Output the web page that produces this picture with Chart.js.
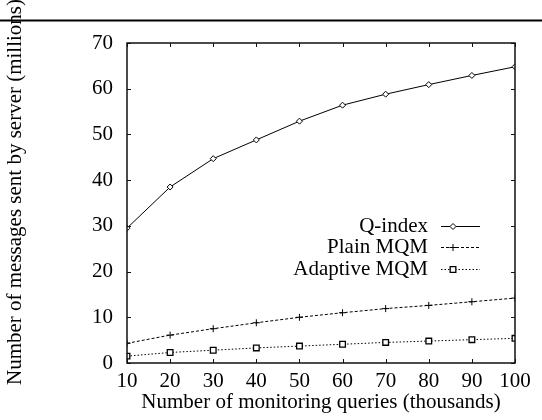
<!DOCTYPE html>
<html>
<head>
<meta charset="utf-8">
<script src="https://cdn.jsdelivr.net/npm/chart.js@4/dist/chart.umd.min.js"></script>
<style>
  html, body { margin: 0; padding: 0; background: #fff; }
  #wrap { width: 542px; height: 420px; position: relative; }
</style>
</head>
<body>
<div id="wrap"><canvas id="chart"></canvas></div>
<script>
// queries (thousands) on x, messages (millions) on y
const queries      = [10, 20, 30, 40, 50, 60, 70, 80, 90, 100];
const qIndex       = [29.5, 38.5, 44.7, 48.8, 52.9, 56.4, 58.8, 60.9, 62.9, 64.8];
const plainMQM     = [4.3, 6.1, 7.5, 8.8, 10.0, 11.0, 11.9, 12.6, 13.4, 14.2];
const adaptiveMQM  = [1.5, 2.3, 2.8, 3.3, 3.7, 4.1, 4.5, 4.8, 5.1, 5.4];
const seriesNames  = ["Q-index", "Plain MQM", "Adaptive MQM"];
const xTicks       = [10, 20, 30, 40, 50, 60, 70, 80, 90, 100];
const yTicks       = [0, 10, 20, 30, 40, 50, 60, 70];

const FONT = "'Liberation Serif', 'DejaVu Serif', serif";
const pts = vals => vals.map((v, i) => ({ x: queries[i], y: v }));

// gnuplot-like frame, inward ticks, rule, y title and key
const framePlugin = {
  id: "frame",
  afterDraw(chart) {
    const { ctx, chartArea: a, scales: { x, y } } = chart;
    const tl = 4;
    ctx.save();

    // rule across the top of the page
    ctx.strokeStyle = "#000";
    ctx.lineWidth = 2;
    ctx.beginPath();
    ctx.moveTo(0, 20.5); ctx.lineTo(542, 20.5);
    ctx.stroke();

    // box
    ctx.lineWidth = 1.5;
    ctx.strokeStyle = "#111";
    ctx.strokeRect(a.left, a.top, a.right - a.left, a.bottom - a.top);

    ctx.lineWidth = 1;
    ctx.beginPath();
    xTicks.forEach(t => {
      const px = Math.round(x.getPixelForValue(t)) + 0.5;
      ctx.moveTo(px, a.bottom); ctx.lineTo(px, a.bottom - tl);
      ctx.moveTo(px, a.top);    ctx.lineTo(px, a.top + tl);
    });
    yTicks.forEach(t => {
      const py = Math.round(y.getPixelForValue(t)) + 0.5;
      ctx.moveTo(a.left, py);  ctx.lineTo(a.left + tl, py);
      ctx.moveTo(a.right, py); ctx.lineTo(a.right - tl, py);
    });
    ctx.stroke();

    // y axis title
    ctx.fillStyle = "#000";
    ctx.font = "21px " + FONT;
    ctx.textAlign = "center";
    ctx.textBaseline = "middle";
    ctx.save();
    ctx.translate(15, 192);
    ctx.rotate(-Math.PI / 2);
    ctx.fillText("Number of messages sent by server (millions)", 0, 0);
    ctx.restore();

    // key
    const rows = [226, 247, 269];
    chart.data.datasets.forEach((ds, i) => {
      const yy = rows[i];
      ctx.fillStyle = "#000";
      ctx.textAlign = "right";
      ctx.fillText(ds.label, 428, yy);
      ctx.strokeStyle = "#000";
      ctx.lineWidth = 1;
      ctx.setLineDash(ds.borderDash || []);
      ctx.beginPath();
      ctx.moveTo(441, yy + 0.5); ctx.lineTo(480, yy + 0.5);
      ctx.stroke();
      ctx.setLineDash([]);
      ctx.fillStyle = "#fff";
      ctx.lineWidth = ds.pointBorderWidth;
      Chart.helpers.drawPoint(ctx, {
        pointStyle: ds.pointStyle, radius: ds.pointRadius, rotation: 0, borderWidth: ds.pointBorderWidth
      }, 453, yy + 0.5);
    });
    ctx.restore();
  }
};

const common = {
  borderColor: "#000",
  backgroundColor: "#fff",
  pointBorderColor: "#000",
  pointBackgroundColor: "#fff",
  borderWidth: 1,
  pointBorderWidth: 1,
  tension: 0,
};

new Chart(document.getElementById("chart"), {
  type: "line",
  data: {
    datasets: [
      { ...common, label: seriesNames[0], data: pts(qIndex),      pointStyle: "rectRot", pointRadius: 3 },
      { ...common, label: seriesNames[1], data: pts(plainMQM),    pointStyle: "cross",   pointRadius: 3.5, borderDash: [3, 2] },
      { ...common, label: seriesNames[2], data: pts(adaptiveMQM), pointStyle: "rect",    pointRadius: 4, pointBorderWidth: 1.3, borderDash: [1.5, 2] },
    ],
  },
  options: {
    responsive: true,
    maintainAspectRatio: false,
    animation: false,
    layout: { padding: { left: 0, top: 43, right: 27, bottom: 0 } },
    plugins: { legend: { display: false }, tooltip: { enabled: false } },
    scales: {
      x: {
        type: "linear",
        min: 10, max: 100,
        afterBuildTicks: s => { s.ticks = xTicks.map(v => ({ value: v })); },
        afterFit: s => { s.height = 57; },
        grid: { display: false, drawTicks: false },
        border: { display: false },
        ticks: { color: "#000", padding: 6, maxRotation: 0, autoSkip: false, font: { family: FONT, size: 21 } },
        title: { display: true, text: "Number of monitoring queries (thousands)", color: "#000",
                 padding: { top: 0, bottom: 5 }, font: { family: FONT, size: 21 } },
      },
      y: {
        min: 0, max: 70,
        afterBuildTicks: s => { s.ticks = yTicks.map(v => ({ value: v })); },
        afterFit: s => { s.width = 127; },
        grid: { display: false, drawTicks: false },
        border: { display: false },
        ticks: { color: "#000", padding: 14, font: { family: FONT, size: 21 } },
      },
    },
  },
  plugins: [framePlugin],
});
</script>
</body>
</html>
